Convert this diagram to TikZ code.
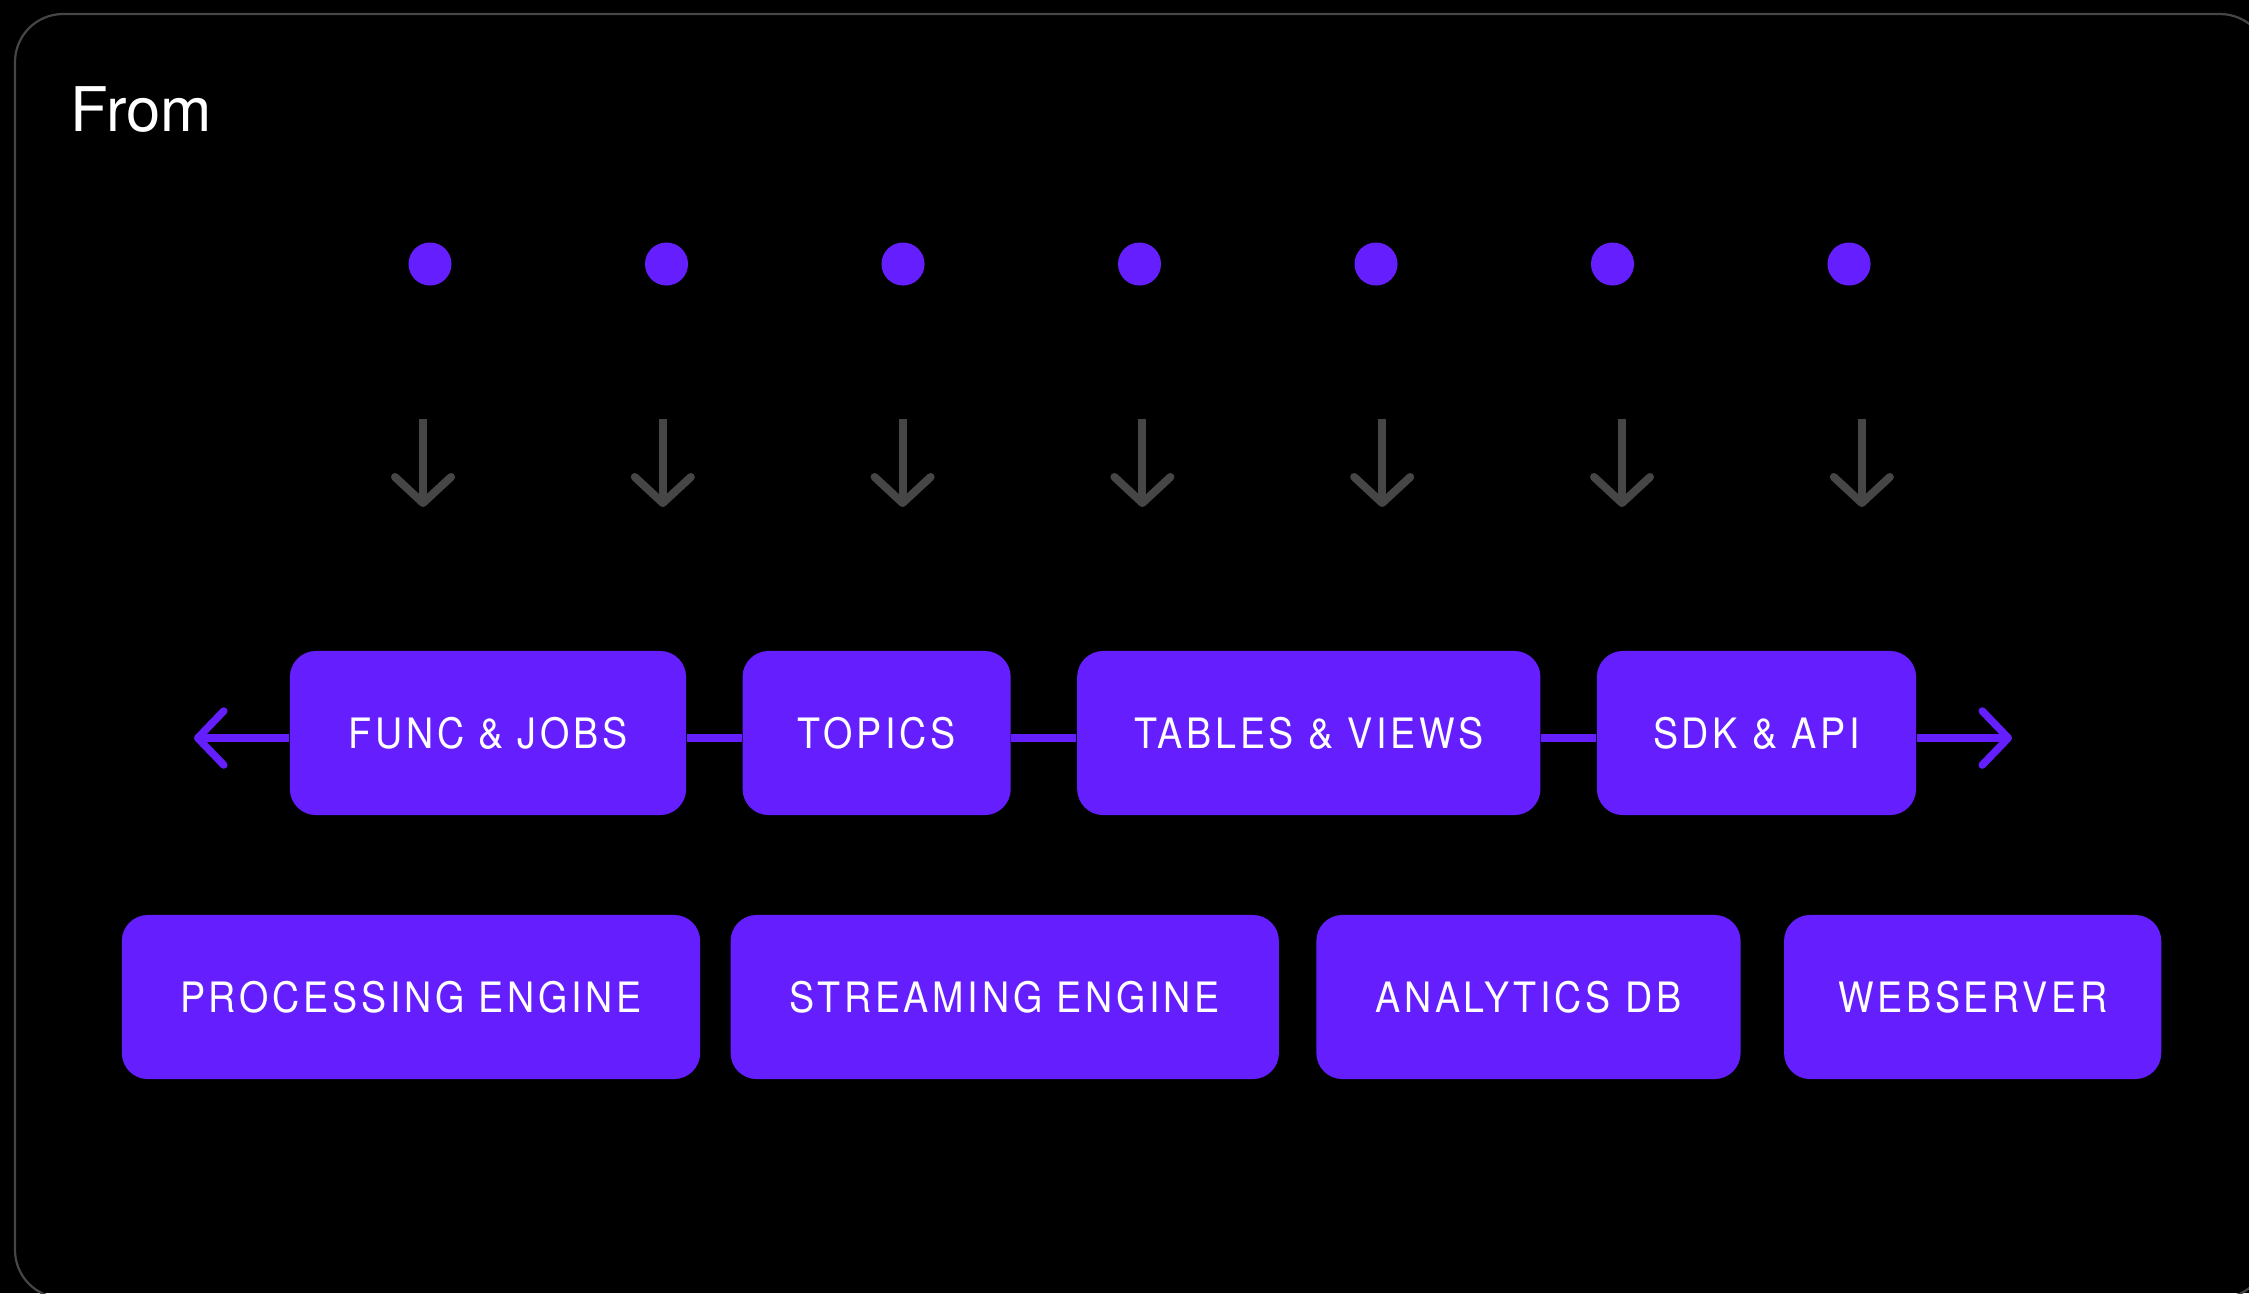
\documentclass[tikz,border=0pt]{standalone}
\usepackage{fontspec}
\setmainfont{TeX Gyre Heros}
\newfontfamily\labelfont[FakeStretch=0.9,LetterSpace=9]{TeX Gyre Heros}
\usetikzlibrary{positioning, arrows.meta}

\definecolor{brand}{HTML}{651FFF}
\definecolor{mutedgray}{HTML}{464646}

\begin{document}
\begin{tikzpicture}[
    x=0.01cm, y=-0.01cm,
    node distance=0.55cm,
    layer/.style={rectangle, fill=brand, text=white, rounded corners=0.26cm, minimum height=1.64cm, inner sep=0pt, font=\labelfont\fontsize{11.9}{14}\selectfont},
    dot/.style={circle, fill=brand, minimum size=0.43cm, inner sep=0pt},
    down/.style={-{Straight Barb[length=0.26cm, width=0.56cm, round]}, line width=0.08cm, mutedgray},
    link/.style={line width=0.075cm, brand},
    linkarrow/.style={link, -{Straight Barb[length=0.26cm, width=0.54cm, round]}}
]

% Canvas
\useasboundingbox (0,0) rectangle (2249,1293);
\fill[black] (0,0) rectangle (2249,1293);
\draw[mutedgray, line width=0.022cm, rounded corners=0.48cm] (15,14) rectangle (2268,1298);

\node[anchor=base west, inner sep=0pt, text=white, font=\fontsize{17.5}{20}\selectfont] (title) at (70,131) {From};

% Sources and arrows
\foreach \i in {0,...,6} {
  \node[dot] (src\i) at ({430+236.5*\i},264) {};
  \coordinate (top\i) at ({423+239.8*\i},419);
  \coordinate (tip\i) at ({423+239.8*\i},507);
  \draw[down] (top\i) -- (tip\i);
}

% Interface layer
\node[layer, minimum width=3.96cm] (func) at (488,733) {FUNC \& JOBS};
\node[layer, minimum width=2.68cm, right=of func] (topics) {TOPICS};
\node[layer, minimum width=4.63cm, right=0.65cm of topics] (tables) {TABLES \& VIEWS};
\node[layer, minimum width=3.19cm, right=of tables] (sdk) {SDK \& API};

\coordinate (leftend) at (194,738);
\coordinate (rightend) at (2012,738);

% Connections
\draw[linkarrow] (leftend -| func.west) -- (leftend);
\draw[link] (leftend -| func.east) -- (leftend -| topics.west);
\draw[link] (leftend -| topics.east) -- (leftend -| tables.west);
\draw[link] (leftend -| tables.east) -- (leftend -| sdk.west);
\draw[linkarrow] (rightend -| sdk.east) -- (rightend);

% Engines
\node[layer, minimum width=5.78cm] (proc) at (411,997) {PROCESSING ENGINE};
\node[layer, minimum width=5.48cm, right=0.29cm of proc] (stream) {STREAMING ENGINE};
\node[layer, minimum width=4.24cm, right=0.36cm of stream] (analytics) {ANALYTICS DB};
\node[layer, minimum width=3.77cm, right=0.42cm of analytics] (web) {WEBSERVER};

\end{tikzpicture}
\end{document}
